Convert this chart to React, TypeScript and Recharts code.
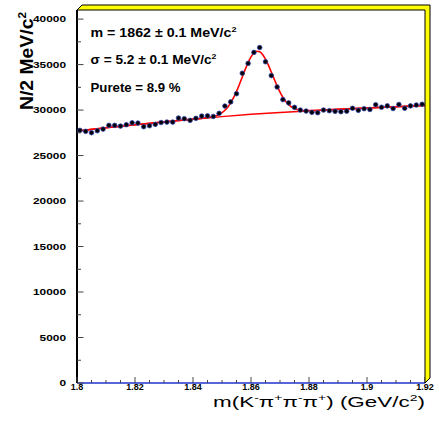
import { ComposedChart, Scatter, Line, XAxis, YAxis } from "recharts";

// bin centres (2 MeV bins) and entries per bin
const binMass = [
  1.801, 1.803, 1.805, 1.807, 1.809, 1.811, 1.813, 1.815, 1.817, 1.819,
  1.821, 1.823, 1.825, 1.827, 1.829, 1.831, 1.833, 1.835, 1.837, 1.839,
  1.841, 1.843, 1.845, 1.847, 1.849, 1.851, 1.853, 1.855, 1.857, 1.859,
  1.861, 1.863, 1.865, 1.867, 1.869, 1.871, 1.873, 1.875, 1.877, 1.879,
  1.881, 1.883, 1.885, 1.887, 1.889, 1.891, 1.893, 1.895, 1.897, 1.899,
  1.901, 1.903, 1.905, 1.907, 1.909, 1.911, 1.913, 1.915, 1.917, 1.919,
];
const binCounts = [
  27770, 27660, 27510, 27730, 27910, 28320, 28320, 28240, 28390, 28600,
  28570, 28170, 28280, 28430, 28630, 28680, 28680, 29120, 29050, 28870,
  29090, 29340, 29360, 29300, 29640, 30440, 30900, 31800, 34050, 35130,
  36340, 36870, 35310, 33790, 32540, 31150, 30790, 30300, 30000, 29890,
  29750, 29710, 30000, 29930, 29860, 29820, 29880, 30200, 29970, 30150,
  30070, 30580, 30310, 30460, 30170, 30620, 30200, 30460, 30550, 30640,
];

// fitted curve (signal + background)
const fitMass = [
  1.8, 1.805, 1.81, 1.815, 1.82, 1.825, 1.83, 1.835, 1.84, 1.843,
  1.845, 1.846, 1.847, 1.848, 1.849, 1.85, 1.851, 1.852, 1.853, 1.854,
  1.855, 1.856, 1.857, 1.858, 1.859, 1.86, 1.861, 1.862, 1.863, 1.864,
  1.865, 1.866, 1.867, 1.868, 1.869, 1.87, 1.871, 1.872, 1.873, 1.874,
  1.875, 1.876, 1.877, 1.878, 1.879, 1.88, 1.885, 1.89, 1.895, 1.9,
  1.905, 1.91, 1.915, 1.92,
];
const fitCounts = [
  27700, 27875, 28050, 28215, 28380, 28540, 28700, 28850, 29000, 29092,
  29169, 29222, 29292, 29389, 29527, 29720, 29983, 30338, 30798, 31371,
  32050, 32819, 33640, 34460, 35216, 35839, 36270, 36467, 36412, 36112,
  35604, 34940, 34183, 33402, 32653, 31980, 31406, 30943, 30592, 30338,
  30163, 30052, 29986, 29952, 29939, 29940, 30000, 30080, 30155, 30230,
  30300, 30370, 30435, 30500,
];

// background component
const bkgMass = [1.8, 1.81, 1.82, 1.83, 1.84, 1.85, 1.86, 1.87, 1.88, 1.89, 1.9, 1.91, 1.92];
const bkgCounts = [27700, 28050, 28380, 28700, 29000, 29280, 29530, 29740, 29920, 30080, 30230, 30370, 30500];

const xTicks = [
  1.8, 1.805, 1.81, 1.815, 1.82, 1.825, 1.83, 1.835, 1.84, 1.845, 1.85, 1.855, 1.86,
  1.865, 1.87, 1.875, 1.88, 1.885, 1.89, 1.895, 1.9, 1.905, 1.91, 1.915, 1.92,
];
const yTicks = [
  0, 2500, 5000, 7500, 10000, 12500, 15000, 17500, 20000, 22500, 25000, 27500,
  30000, 32500, 35000, 37500, 40000,
];

const points = binMass.map((m, i) => ({ m, n: binCounts[i] }));
const fit = fitMass.map((m, i) => ({ m, n: fitCounts[i] }));
const bkg = bkgMass.map((m, i) => ({ m, n: bkgCounts[i] }));

const font = '"Liberation Sans", Arial, Helvetica, sans-serif';
const tickColor = "#444";

const isMajorX = (v: number) => Math.abs(v * 50 - Math.round(v * 50)) < 1e-6;
const isMajorY = (v: number) => v % 5000 === 0;
const fmtX = (v: number) => String(Number(v.toFixed(2)));

const BottomTick = (props: any) => {
  const { x, y, payload } = props;
  const major = isMajorX(payload.value);
  return (
    <g>
      <line x1={x} y1={y} x2={x} y2={y - (major ? 6 : 3)} stroke={tickColor} />
      {major && (
        <text x={x} y={y + 7} textAnchor="middle" fontSize={9} fontWeight="bold" fontFamily={font} fill="#000">
          {fmtX(payload.value)}
        </text>
      )}
    </g>
  );
};

const TopTick = (props: any) => {
  const { x, y, payload } = props;
  const major = isMajorX(payload.value);
  return <line x1={x} y1={y} x2={x} y2={y + (major ? 6 : 3)} stroke={tickColor} />;
};

const LeftTick = (props: any) => {
  const { x, y, payload } = props;
  const major = isMajorY(payload.value);
  return (
    <g>
      <line x1={x} y1={y} x2={x + (major ? 6.5 : 4)} y2={y} stroke={tickColor} />
      {major && (
        <text
          transform={`translate(${x - 11},${y + 3.4}) scale(1.25,1)`}
          textAnchor="end"
          fontSize={9.5}
          fontWeight="bold"
          fontFamily={font}
          fill="#000"
        >
          {payload.value}
        </text>
      )}
    </g>
  );
};

const RightTick = (props: any) => {
  const { x, y, payload } = props;
  const major = isMajorY(payload.value);
  return <line x1={x} y1={y} x2={x - (major ? 6.5 : 4)} y2={y} stroke={tickColor} />;
};

const Dot = (props: any) => (
  <circle cx={props.cx} cy={props.cy} r={2.3} fill="#000" stroke="#3344aa" strokeWidth={0.8} />
);

export default function App() {
  return (
    <div style={{ position: "absolute", left: 0, top: 0, width: 439, height: 428, background: "#fff" }}>
      <ComposedChart width={439} height={428} margin={{ top: 10, right: 14, bottom: 25, left: 17 }}>
        <XAxis
          dataKey="m"
          type="number"
          domain={[1.8, 1.92]}
          allowDataOverflow
          ticks={xTicks}
          interval={0}
          height={20}
          tickSize={0}
          tickMargin={0}
          tickLine={false}
          axisLine={{ stroke: "#2233cc", strokeWidth: 1.5 }}
          tick={BottomTick}
        />
        <XAxis
          xAxisId="top"
          orientation="top"
          dataKey="m"
          type="number"
          domain={[1.8, 1.92]}
          allowDataOverflow
          ticks={xTicks}
          interval={0}
          height={0}
          tickSize={0}
          tickMargin={0}
          tickLine={false}
          axisLine={{ stroke: "#000" }}
          tick={TopTick}
        />
        <YAxis
          type="number"
          domain={[0, 41000]}
          allowDataOverflow
          ticks={yTicks}
          interval={0}
          width={60}
          tickSize={0}
          tickMargin={0}
          tickLine={false}
          axisLine={{ stroke: "#000", strokeWidth: 2 }}
          tick={LeftTick}
        />
        <YAxis
          yAxisId="right"
          orientation="right"
          type="number"
          domain={[0, 41000]}
          allowDataOverflow
          ticks={yTicks}
          interval={0}
          width={0}
          tickSize={0}
          tickMargin={0}
          tickLine={false}
          axisLine={{ stroke: "#000" }}
          tick={RightTick}
        />
        <Scatter data={points} dataKey="n" shape={Dot} isAnimationActive={false} />
        <Line data={bkg} dataKey="n" type="monotone" stroke="#ff0000" strokeWidth={1.5} dot={false} isAnimationActive={false} />
        <Line data={fit} dataKey="n" type="monotone" stroke="#ff0000" strokeWidth={1.6} dot={false} isAnimationActive={false} />
      </ComposedChart>

      <svg width={439} height={428} style={{ position: "absolute", left: 0, top: 0, pointerEvents: "none" }} fontFamily={font}>
        {/* yellow frame shadow */}
        <polygon points="77,10 82,5 430,5 430,378 425,383 425,10" fill="#ffff00" stroke="#000" strokeWidth={1} />

        {/* fit results */}
        <text x={90.5} y={36.5} fontSize={12.5} fontWeight="bold" textLength={146} lengthAdjust="spacingAndGlyphs">
          m = 1862 ± 0.1 MeV/c<tspan dy={-5} fontSize={8}>2</tspan>
        </text>
        <text x={90.5} y={64} fontSize={12.5} fontWeight="bold" textLength={126} lengthAdjust="spacingAndGlyphs">
          σ = 5.2 ± 0.1 MeV/c<tspan dy={-5} fontSize={8}>2</tspan>
        </text>
        <text x={90.5} y={91.5} fontSize={12.5} fontWeight="bold" textLength={90} lengthAdjust="spacingAndGlyphs">
          Purete = 8.9 %
        </text>

        {/* axis titles */}
        <text x={213} y={407} fontSize={14.5} textLength={212} lengthAdjust="spacingAndGlyphs">
          m(K<tspan dy={-6} fontSize={9}>-</tspan>
          <tspan dy={6}>π</tspan>
          <tspan dy={-6} fontSize={9}>+</tspan>
          <tspan dy={6}>π</tspan>
          <tspan dy={-6} fontSize={9}>-</tspan>
          <tspan dy={6}>π</tspan>
          <tspan dy={-6} fontSize={9}>+</tspan>
          <tspan dy={6}>) (GeV/c</tspan>
          <tspan dy={-6} fontSize={9}>2</tspan>
          <tspan dy={6}>)</tspan>
        </text>
        <text transform="translate(33,110) rotate(-90)" fontSize={18} fontWeight="bold" textLength={98} lengthAdjust="spacingAndGlyphs">
          N/2 MeV/c<tspan dy={-7} fontSize={11}>2</tspan>
        </text>
      </svg>
    </div>
  );
}
